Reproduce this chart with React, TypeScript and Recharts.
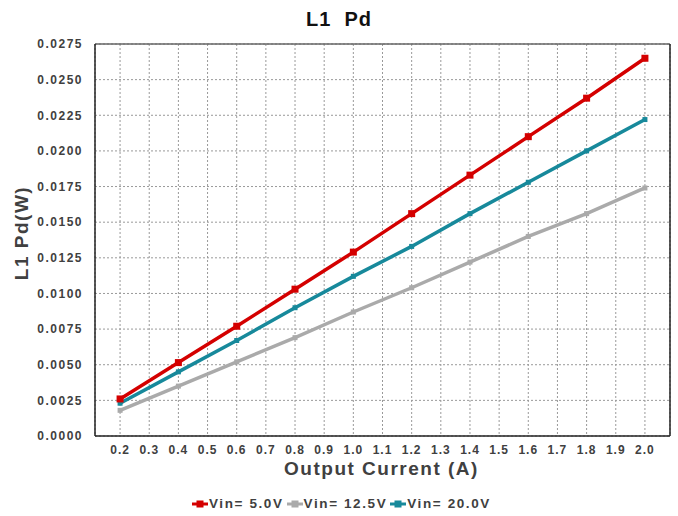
import { LineChart, Line, XAxis, YAxis, CartesianGrid, ReferenceLine } from 'recharts';

const currents = [0.2, 0.4, 0.6, 0.8, 1.0, 1.2, 1.4, 1.6, 1.8, 2.0];
const vin5 = [0.0026, 0.00515, 0.0077, 0.0103, 0.0129, 0.0156, 0.0183, 0.021, 0.0237, 0.0265];
const vin125 = [0.0018, 0.0035, 0.0052, 0.0069, 0.0087, 0.0104, 0.0122, 0.014, 0.0156, 0.0174];
const vin20 = [0.0023, 0.0045, 0.0067, 0.009, 0.0112, 0.0133, 0.0156, 0.0178, 0.02, 0.0222];

const xTicks = [0.2, 0.3, 0.4, 0.5, 0.6, 0.7, 0.8, 0.9, 1.0, 1.1, 1.2, 1.3, 1.4, 1.5, 1.6, 1.7, 1.8, 1.9, 2.0];
const yTicks = [0, 0.0025, 0.005, 0.0075, 0.01, 0.0125, 0.015, 0.0175, 0.02, 0.0225, 0.025, 0.0275];

const X_MIN = 0.114;
const X_MAX = 2.086;
const Y_MAX = 0.0275;

const series = [
  { key: 'vin5', name: 'Vin= 5.0V', color: '#d40000', size: 7 },
  { key: 'vin125', name: 'Vin= 12.5V', color: '#aaaaaa', size: 5 },
  { key: 'vin20', name: 'Vin= 20.0V', color: '#17899b', size: 5 },
];

const data = currents.map((c, i) => ({
  current: c,
  vin5: vin5[i],
  vin125: vin125[i],
  vin20: vin20[i],
}));

const font = 'Arial, "Liberation Sans", sans-serif';
const textColor = '#404040';

const squareDot = (color: string, size: number) => (props: any) => {
  const { cx, cy, index } = props;
  if (cx == null || cy == null) return <g key={index} />;
  return (
    <rect
      key={index}
      x={cx - size / 2}
      y={cy - size / 2}
      width={size}
      height={size}
      fill={color}
    />
  );
};

export default function App() {
  // draw order: gray, teal, then red on top
  const drawOrder = [series[1], series[2], series[0]];
  return (
    <div style={{ position: 'absolute', left: 0, top: 0, width: 678, height: 516, background: '#fff', fontFamily: font }}>
      <div
        style={{
          position: 'absolute', top: 8, left: 0, width: 678, textAlign: 'center',
          fontSize: 20, fontWeight: 'bold', letterSpacing: 1, color: '#111', whiteSpace: 'pre',
        }}
      >
        L1  Pd
      </div>
      <div
        style={{
          position: 'absolute', left: 22, top: 233, transform: 'translate(-50%, -50%) rotate(-90deg)',
          fontSize: 19, fontWeight: 'bold', letterSpacing: 1.5, color: textColor, whiteSpace: 'nowrap',
        }}
      >
        L1 Pd(W)
      </div>
      <div
        style={{
          position: 'absolute', top: 458, left: 283, width: 197, textAlign: 'center',
          fontSize: 19, fontWeight: 'bold', letterSpacing: 1.5, color: textColor, whiteSpace: 'nowrap',
        }}
      >
        Output Current (A)
      </div>

      <LineChart
        width={678}
        height={516}
        data={data}
        margin={{ top: 44, right: 8, left: 0, bottom: 50 }}
        style={{ position: 'absolute', left: 0, top: 0 }}
      >
        <CartesianGrid stroke='#999' strokeDasharray='2 2' />
        <XAxis
          dataKey='current'
          type='number'
          domain={[X_MIN, X_MAX]}
          ticks={xTicks}
          allowDataOverflow
          interval={0}
          height={30}
          tickFormatter={(v: number) => v.toFixed(1)}
          tickLine={false}
          tickMargin={3}
          axisLine={{ stroke: '#222', strokeWidth: 1.5 }}
          tick={{ fontSize: 12, fontWeight: 'bold', fill: textColor, letterSpacing: 1 }}
        />
        <YAxis
          type='number'
          domain={[0, Y_MAX]}
          ticks={yTicks}
          interval={0}
          width={95}
          tickFormatter={(v: number) => v.toFixed(4)}
          tickLine={false}
          tickMargin={6}
          axisLine={{ stroke: '#222', strokeWidth: 1.5 }}
          tick={{ fontSize: 12, fontWeight: 'bold', fill: textColor, letterSpacing: 1.5 }}
        />
        <ReferenceLine y={Y_MAX} stroke='#666' strokeWidth={1.5} />
        <ReferenceLine x={X_MAX} stroke='#222' strokeWidth={1.5} />
        {drawOrder.map((s) => (
          <Line
            key={s.key}
            dataKey={s.key}
            name={s.name}
            stroke={s.color}
            strokeWidth={3.5}
            dot={squareDot(s.color, s.size)}
            activeDot={false}
            isAnimationActive={false}
          />
        ))}
      </LineChart>

      {/* legend */}
      <div
        style={{
          position: 'absolute', top: 496, left: 192, display: 'flex', alignItems: 'center',
          fontSize: 13.5, fontWeight: 'bold', letterSpacing: 1.6, color: textColor, whiteSpace: 'nowrap',
        }}
      >
        {series.map((s) => (
          <div key={s.key} style={{ display: 'flex', alignItems: 'center', marginRight: 3 }}>
            <svg width={16} height={10} style={{ marginRight: 1 }}>
              <line x1={0} y1={5} x2={16} y2={5} stroke={s.color} strokeWidth={3} />
              <rect x={4.5} y={1.5} width={7} height={7} fill={s.color} />
            </svg>
            <span>{s.name}</span>
          </div>
        ))}
      </div>
    </div>
  );
}
